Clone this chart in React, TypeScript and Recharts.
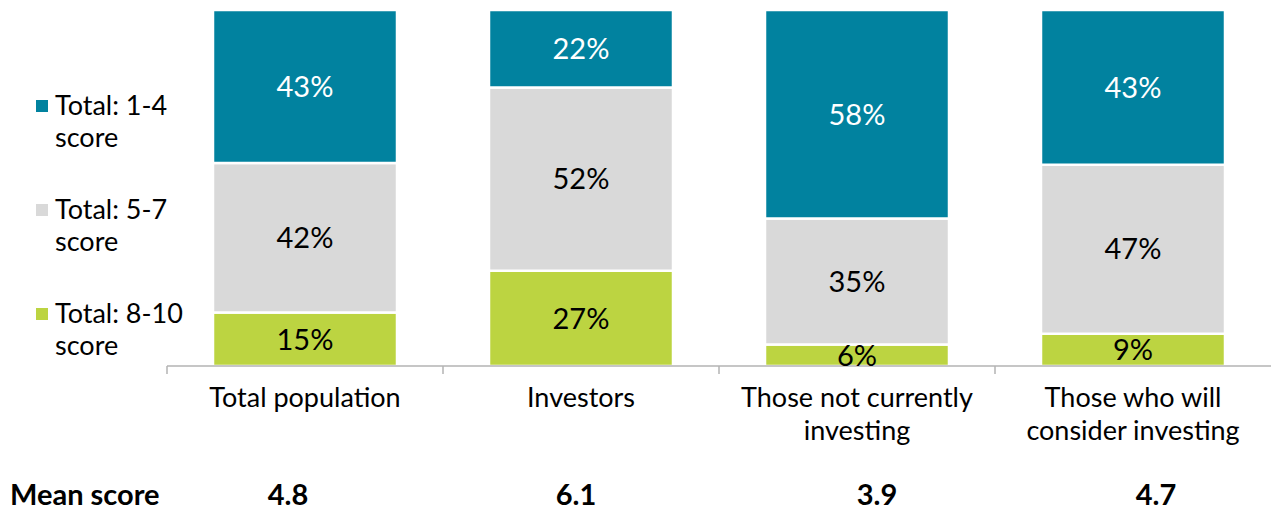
import { BarChart, Bar, XAxis, YAxis, Legend, LabelList } from "recharts";

const categories = [
  "Total population",
  "Investors",
  "Those not currently\ninvesting",
  "Those who will\nconsider investing",
];
const low = [43, 22, 58, 43]; // Total: 1-4 score
const mid = [42, 52, 35, 47]; // Total: 5-7 score
const high = [15, 27, 6, 9]; // Total: 8-10 score
const meanScores = ["4.8", "6.1", "3.9", "4.7"];
const legendOrder = ["Total: 1-4 score", "Total: 5-7 score", "Total: 8-10 score"];

const data = categories.map((name, i) => ({
  name,
  low: low[i],
  mid: mid[i],
  high: high[i],
  mean: meanScores[i],
}));

const FONT = "Lato, 'Noto Sans', sans-serif";
const BLUE = "#01829f";
const GREY = "#d9d9d9";
const GREEN = "#bcd441";
const AXIS = "#b3b3b3";

const W = 1271;
const H = 508;
const LEFT = 167;
const BAND = (W - LEFT) / categories.length;
// mean score row sits a little off the bar centres in the original
const MEAN_SHIFT = [-17, -5, 20, 23];

function CategoryTick(props: any) {
  const { x, y, payload, index } = props;
  const lines = String(payload.value).split("\n");
  return (
    <g>
      <line x1={x - BAND / 2} x2={x - BAND / 2} y1={y} y2={y + 8} stroke={AXIS} strokeWidth={1.5} />
      {lines.map((l, i) => (
        <text key={i} x={x} y={y + 41 + i * 33} textAnchor="middle" fontSize={27} fill="#000" fontFamily={FONT}>
          {l}
        </text>
      ))}
      <text
        x={x + MEAN_SHIFT[index]}
        y={y + 139}
        textAnchor="middle"
        fontSize={29}
        fontWeight={700}
        fill="#000"
        fontFamily={FONT}
      >
        {meanScores[index]}
      </text>
    </g>
  );
}

function LegendBox(props: any) {
  const items = [...(props.payload || [])].sort(
    (a: any, b: any) => legendOrder.indexOf(a.value) - legendOrder.indexOf(b.value)
  );
  return (
    <div style={{ fontFamily: FONT, fontSize: 27, lineHeight: "32px", color: "#000" }}>
      {items.map((it: any, i: number) => {
        const name = String(it.value);
        const cut = name.lastIndexOf(" ");
        return (
          <div key={i} style={{ position: "relative", height: 104, paddingLeft: 19 }}>
            <span
              style={{ position: "absolute", left: 0, top: 11, width: 12, height: 12, background: it.color }}
            />
            <div>{name.slice(0, cut)}</div>
            <div>{name.slice(cut + 1)}</div>
          </div>
        );
      })}
    </div>
  );
}

const pct = (v: any) => `${v}%`;

export default function App() {
  return (
    <div style={{ position: "absolute", left: 0, top: 0, width: W, height: H, background: "#fff" }}>
      <BarChart
        width={W}
        height={H}
        data={data}
        stackOffset="expand"
        margin={{ top: 10, right: 0, left: LEFT, bottom: 0 }}
      >
        <XAxis
          dataKey="name"
          height={142}
          interval={0}
          tickLine={false}
          tickSize={0}
          tickMargin={0}
          axisLine={{ stroke: AXIS, strokeWidth: 1.5 }}
          tick={<CategoryTick />}
        />
        <YAxis hide domain={[0, 1]} />
        <Legend
          layout="vertical"
          align="center"
          verticalAlign="middle"
          wrapperStyle={{ left: 36, top: 89, width: 170 }}
          content={<LegendBox />}
        />
        <Bar dataKey="high" name="Total: 8-10 score" stackId="a" fill={GREEN} stroke="#fff" strokeWidth={2.5} barSize={184} isAnimationActive={false}>
          <LabelList dataKey="high" position="center" formatter={pct} fill="#000" fontSize={29} fontFamily={FONT} />
        </Bar>
        <Bar dataKey="mid" name="Total: 5-7 score" stackId="a" fill={GREY} stroke="#fff" strokeWidth={2.5} barSize={184} isAnimationActive={false}>
          <LabelList dataKey="mid" position="center" formatter={pct} fill="#000" fontSize={29} fontFamily={FONT} />
        </Bar>
        <Bar dataKey="low" name="Total: 1-4 score" stackId="a" fill={BLUE} stroke="#fff" strokeWidth={2.5} barSize={184} isAnimationActive={false}>
          <LabelList dataKey="low" position="center" formatter={pct} fill="#fff" fontSize={29} fontFamily={FONT} />
        </Bar>
      </BarChart>
      <div
        style={{
          position: "absolute",
          left: 10,
          top: 478,
          fontFamily: FONT,
          fontSize: 29,
          fontWeight: 700,
          lineHeight: "32px",
          color: "#000",
        }}
      >
        Mean score
      </div>
    </div>
  );
}
